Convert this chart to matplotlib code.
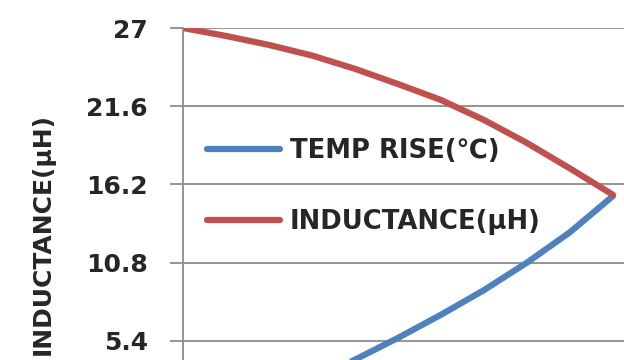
import matplotlib
matplotlib.use("Agg")
import matplotlib.pyplot as plt

# Data (x positions are equally spaced current steps)
x_steps = [0, 1, 2, 3, 4, 5, 6, 7, 8, 9, 10]
inductance = [27.0, 26.45, 25.83, 25.10, 24.18, 23.13, 22.03, 20.65, 19.06, 17.30, 15.48]
temp_rise = [0.0, 0.6, 1.5, 2.7, 4.1, 5.6, 7.2, 8.9, 10.8, 12.9, 15.4]
y_ticks = [5.4, 10.8, 16.2, 21.6, 27]
y_tick_labels = ["5.4", "10.8", "16.2", "21.6", "27"]

W, H = 624, 360
fig = plt.figure(figsize=(W / 100, H / 100), dpi=100)
fig.patch.set_facecolor("white")

# axes extends beyond the visible figure (the reference is a crop)
left_px, top_px, bottom_px, right_px = 183, 28, 419, 634.5
ax = fig.add_axes([left_px / W, 1 - bottom_px / H,
                   (right_px - left_px) / W, (bottom_px - top_px) / H])
ax.set_xlim(0, 10.5)
ax.set_ylim(0, 27)

grid_c = "#8c8c8c"
text_c = "#262626"
ax.set_yticks(y_ticks)
ax.set_yticklabels(y_tick_labels, fontweight="bold")
ax.set_xticks([])
ax.yaxis.grid(True, color=grid_c, linewidth=1.3)
ax.set_axisbelow(True)
for s in ["top", "right", "bottom"]:
    ax.spines[s].set_visible(False)
ax.spines["left"].set_color(grid_c)
ax.spines["left"].set_linewidth(1.3)
ax.tick_params(axis="y", direction="out", length=9.4, width=1.3, color=grid_c,
               pad=16, labelsize=18, labelcolor=text_c)

l1, = ax.plot(x_steps, temp_rise, color="#4F81BD", linewidth=4.5,
              solid_capstyle="round", label="TEMP RISE(℃)")
l2, = ax.plot(x_steps, inductance, color="#C0504D", linewidth=4.5,
              solid_capstyle="round", label="INDUCTANCE(μH)")

leg = fig.legend(handles=[l1, l2], loc="upper left",
                 bbox_to_anchor=(207 / W, 1 - 138 / H), bbox_transform=fig.transFigure,
                 frameon=False, prop={"size": 18.6, "weight": "bold",
                                      "family": ["DejaVu Sans", "Noto Sans CJK SC"]},
                 borderpad=0, borderaxespad=0,
                 handlelength=2.82, handletextpad=0.39, labelspacing=1.75)
for t in leg.get_texts():
    t.set_color(text_c)

fig.text(43 / W, 1 - 113 / H, "INDUCTANCE(μH)", rotation=90, ha="center", va="top",
         fontsize=18, fontweight="bold", color=text_c)

fig.savefig("out.png", dpi=100, facecolor="white")
